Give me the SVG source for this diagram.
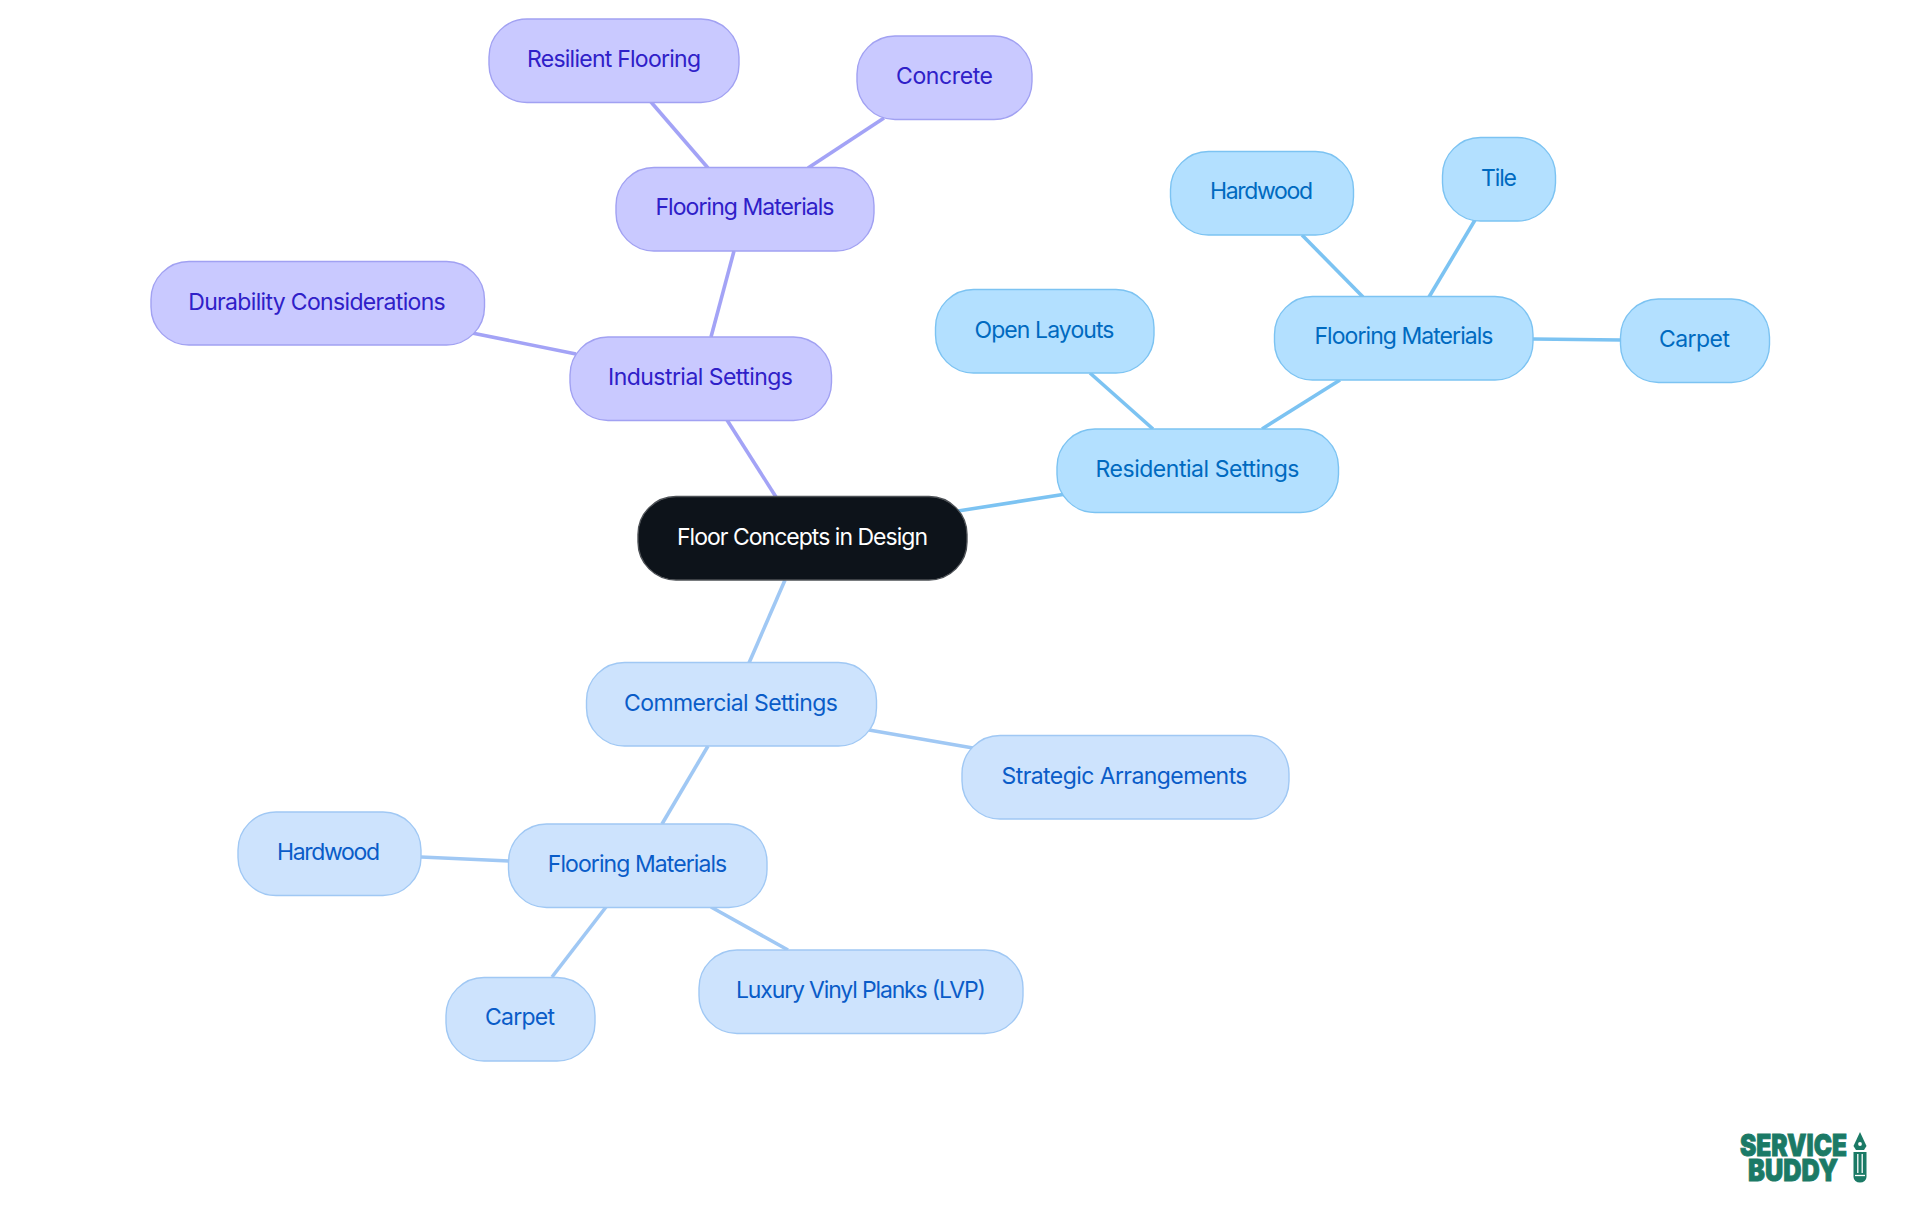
<svg xmlns="http://www.w3.org/2000/svg" width="1920" height="1215" viewBox="0 0 1920 1215">
<style>
.n{stroke-width:1.4}
text{font-family:"Inter","Noto Sans","Liberation Sans",sans-serif;font-size:23px;font-weight:380;text-anchor:middle}
.p rect{fill:#c9c9ff;stroke:#a1a1f2}.p text{fill:#2f20c8}
.s rect{fill:#b3e0ff;stroke:#7cc3f2}.s text{fill:#006ac0}
.c rect{fill:#cde3fd;stroke:#a0c8f4}.c text{fill:#0a5cc8}
.r rect{fill:#0d131a;stroke:#4d5156}.r text{fill:#fff}
#connectors line{stroke-width:3.6;stroke-linecap:butt}
.lp{stroke:#a3a3f6}.ls{stroke:#7cc3f2}.lc{stroke:#a0c8f4}
text.logo{font-family:"Inter","Liberation Sans",sans-serif;font-weight:900;font-size:30px;fill:#1b7a66;stroke:#1b7a66;stroke-width:.9;text-anchor:start}
</style>
<rect width="1920" height="1215" fill="#fff"/>
<g id="connectors">
<line class="lp" x1="651" y1="102" x2="708" y2="168"/>
<line class="lp" x1="884" y1="118" x2="808" y2="168"/>
<line class="lp" x1="734" y1="251" x2="711" y2="337"/>
<line class="lp" x1="472" y1="333" x2="576" y2="354"/>
<line class="lp" x1="727" y1="420" x2="776" y2="497"/>
<line class="lc" x1="785" y1="580" x2="749" y2="663"/>
<line class="ls" x1="958" y1="511" x2="1066" y2="494"/>
<line class="ls" x1="1090" y1="373" x2="1153" y2="429"/>
<line class="ls" x1="1340" y1="380" x2="1262" y2="429"/>
<line class="ls" x1="1302" y1="235" x2="1363" y2="297"/>
<line class="ls" x1="1475" y1="220" x2="1429" y2="297"/>
<line class="ls" x1="1533" y1="339" x2="1621" y2="340"/>
<line class="lc" x1="869" y1="730" x2="973" y2="748"/>
<line class="lc" x1="708" y1="746" x2="662" y2="824"/>
<line class="lc" x1="421" y1="857" x2="509" y2="861"/>
<line class="lc" x1="606" y1="907" x2="552" y2="977"/>
<line class="lc" x1="711" y1="907" x2="788" y2="950"/>
</g>
<g id="root" class="r"><rect class="n" x="638" y="496.500" width="329" height="83.500" rx="38"/><text x="802.500" y="544.500" textLength="251">Floor Concepts in Design</text></g>
<g id="industrial" class="p"><rect class="n" x="570" y="337" width="261.500" height="83.500" rx="38"/><text x="700.500" y="384.800" textLength="185">Industrial Settings</text></g>
<g id="industrial-flooring" class="p"><rect class="n" x="616" y="167.500" width="258" height="83.500" rx="38"/><text x="745" y="214.800" textLength="179">Flooring Materials</text></g>
<g id="resilient" class="p"><rect class="n" x="489" y="19" width="250" height="83.500" rx="38"/><text x="614" y="66.800" textLength="174">Resilient Flooring</text></g>
<g id="concrete" class="p"><rect class="n" x="857" y="36" width="175" height="83.500" rx="38"/><text x="944.500" y="84" textLength="97">Concrete</text></g>
<g id="durability" class="p"><rect class="n" x="151" y="261.500" width="333.500" height="83.500" rx="38"/><text x="317" y="309.500" textLength="257.500">Durability Considerations</text></g>
<g id="residential" class="s"><rect class="n" x="1057" y="429" width="281.500" height="83.500" rx="38"/><text x="1197.500" y="477" textLength="204">Residential Settings</text></g>
<g id="open-layouts" class="s"><rect class="n" x="935.500" y="289.500" width="218.500" height="83.500" rx="38"/><text x="1044.500" y="337.500" textLength="140">Open Layouts</text></g>
<g id="residential-flooring" class="s"><rect class="n" x="1274.500" y="296.500" width="258.500" height="83.500" rx="38"/><text x="1404" y="344" textLength="179">Flooring Materials</text></g>
<g id="residential-hardwood" class="s"><rect class="n" x="1170.500" y="151.500" width="183" height="83.500" rx="38"/><text x="1261.500" y="198.800" textLength="103">Hardwood</text></g>
<g id="tile" class="s"><rect class="n" x="1442.500" y="137.500" width="113" height="83.500" rx="38"/><text x="1499" y="185.500" textLength="36">Tile</text></g>
<g id="residential-carpet" class="s"><rect class="n" x="1620.500" y="299" width="149" height="83.500" rx="38"/><text x="1694.500" y="347" textLength="71">Carpet</text></g>
<g id="commercial" class="c"><rect class="n" x="586.500" y="662.500" width="290" height="83.500" rx="38"/><text x="731" y="710.500" textLength="214">Commercial Settings</text></g>
<g id="strategic" class="c"><rect class="n" x="962" y="735.500" width="327" height="83.500" rx="38"/><text x="1124.500" y="784" textLength="246">Strategic Arrangements</text></g>
<g id="commercial-flooring" class="c"><rect class="n" x="508.500" y="824" width="258.500" height="83.500" rx="38"/><text x="637.500" y="872" textLength="179.500">Flooring Materials</text></g>
<g id="commercial-hardwood" class="c"><rect class="n" x="238" y="812" width="183" height="83.500" rx="38"/><text x="328.500" y="860" textLength="103">Hardwood</text></g>
<g id="commercial-carpet" class="c"><rect class="n" x="446" y="977.500" width="149" height="83.500" rx="38"/><text x="520" y="1025" textLength="70">Carpet</text></g>
<g id="lvp" class="c"><rect class="n" x="699" y="950" width="324" height="83.500" rx="38"/><text x="861" y="998" textLength="250">Luxury Vinyl Planks (LVP)</text></g>
<g id="logo">
<text class="logo"><tspan x="1740" y="1155.500" textLength="107" lengthAdjust="spacingAndGlyphs">SERVICE</tspan><tspan x="1748" y="1180.500" textLength="90" lengthAdjust="spacingAndGlyphs">BUDDY</tspan></text>
<path d="M1860 1132l6.500 14-2.500 4h-8l-2.500-4z" fill="#1b7a66"/>
<path d="M1853.500 1152h13v25a6.500 5.500 0 0 1-13 0z" fill="#1b7a66"/>
<path d="M1857.800 1154v19M1862.200 1154v19" stroke="#fff" stroke-width="1.300" fill="none"/>
<path d="M1855 1175.500h10" stroke="#fff" stroke-width="1.300"/>
<circle cx="1860" cy="1144" r="1.900" fill="#fff"/>
</g>
</svg>
